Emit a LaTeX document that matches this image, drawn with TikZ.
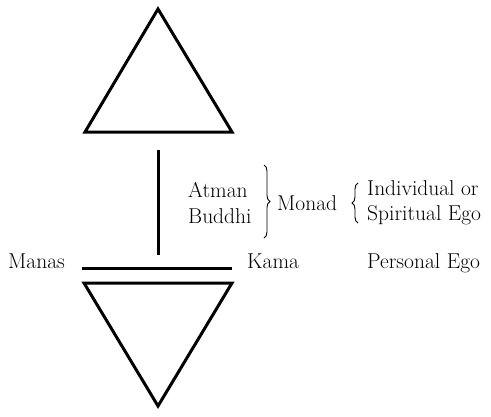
\documentclass[tikz,border=0pt]{standalone}
\usetikzlibrary{decorations.pathreplacing}
\begin{document}
\begin{tikzpicture}[x=1pt,y=-1pt,
  thick line/.style={line width=3pt,line join=miter},
  lbl/.style={anchor=base west,inner sep=0pt,font=\fontsize{21.5}{24}\selectfont},
  bracestyle/.style={line width=0.9pt,decorate,decoration={brace,amplitude=6pt}}]
\useasboundingbox (0,0) rectangle (491,416);
% upper triangle
\coordinate (ua) at (158,9);
\coordinate (ul) at (85,132);
\coordinate (ur) at (232,132);
\draw[thick line] (ua) -- (ur) -- (ul) -- cycle;
% vertical line
\coordinate (vt) at (158,150);
\coordinate (vb) at (158,255);
\draw[thick line] (vt) -- (vb);
% horizontal line
\coordinate (hl) at (82,268);
\coordinate (hr) at (232,268);
\draw[thick line] (hl) -- (hr);
% lower triangle
\coordinate (ll) at (84,283);
\coordinate (lr) at (232,283);
\coordinate (la) at (158,406);
\draw[thick line] (ll) -- (lr) -- (la) -- cycle;
% labels
\node[lbl] (atman) at (188,197) {Atman};
\node[lbl] (buddhi) at (188,223) {Buddhi};
\node[lbl] (monad) at (277,210) {Monad};
\node[lbl] (indiv) at (367,195) {Individual or};
\node[lbl] (spirit) at (367,220) {Spiritual Ego};
\node[lbl] (manas) at (8,268) {Manas};
\node[lbl] (kama) at (247,268) {Kama};
\node[lbl] (pers) at (367,268) {Personal Ego};
% braces
\coordinate (b1t) at (264,165);
\coordinate (b1b) at (264,238);
\draw[bracestyle] (b1t) -- (b1b);
\coordinate (b2t) at (358,183);
\coordinate (b2b) at (358,223);
\draw[bracestyle] (b2b) -- (b2t);
\end{tikzpicture}
\end{document}
